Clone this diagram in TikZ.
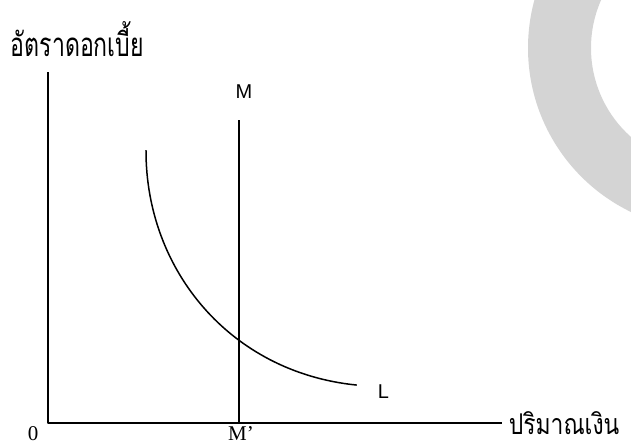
\documentclass[tikz,border=0pt]{standalone}
\usepackage{fontspec}
\setmainfont{Liberation Serif}
\setsansfont{Liberation Sans}
\newfontfamily\thaifont[Script=Thai]{Loma}
\usetikzlibrary{positioning}

\begin{document}
\begin{tikzpicture}[
      x=1pt, y=-1pt,
      line cap=rect, line join=round, line width=1.5pt,
      lbl/.style={font=\sffamily\fontsize{20}{22}\selectfont, inner sep=0pt},
      num/.style={font=\fontsize{21}{23}\selectfont, inner sep=0pt},
      thai/.style={font=\thaifont\fontsize{22}{24}\selectfont, inner sep=0pt}
    ]

    % ------------------ Layout ------------------
    \def\axisX{48}
    \def\axisY{423}
    \def\axisTop{73}
    \def\axisEnd{501}
    \def\mX{239}
    \def\mTop{121}

    \useasboundingbox (0,0) rectangle (631,446);

    % ------------------ Grey ring (clipped) ------------------
    \begin{scope}
      \clip (0,0) rectangle (631,446);
      \fill[black!17, even odd rule]
      (710,48) circle[radius=182] (710,48) circle[radius=119];
    \end{scope}

    % ------------------ Axes ------------------
    \coordinate (origin) at (\axisX,\axisY);
    \coordinate (ytop) at (\axisX,\axisTop);
    \coordinate (xend) at (\axisEnd,\axisY);
    \draw (ytop) -- (origin) -- (xend);

    % ------------------ Money supply M ------------------
    \coordinate (mtop) at (\mX,\mTop);
    \coordinate (mbot) at (\mX,\axisY);
    \draw (mtop) -- (mbot);

    % ------------------ Liquidity curve L ------------------
    \coordinate (lstart) at (146,151);
    \coordinate (lend) at (356,385);
    \draw (lstart) .. controls (146,270) and (230,372) .. (lend);

    % ------------------ Labels ------------------
    \node[thai, anchor=base west] (ylab) at (10,57)
    {\scalebox{1.05}[1.5]{อัตราดอกเบี้ย}};
    \node[thai, anchor=base west] (xlab) at (508,434)
    {\scalebox{1.04}[1.3]{ปริมาณเงิน}};
    \node[lbl] (mlab) at (244,92) {M};
    \node[lbl, anchor=west] (llab) at (377,392) {L};
    \node[num, anchor=north] (mplab) at (241,426) {M’};
    \node[num, anchor=north] (zlab) at (33,426) {0};

  \end{tikzpicture}
\end{document}
